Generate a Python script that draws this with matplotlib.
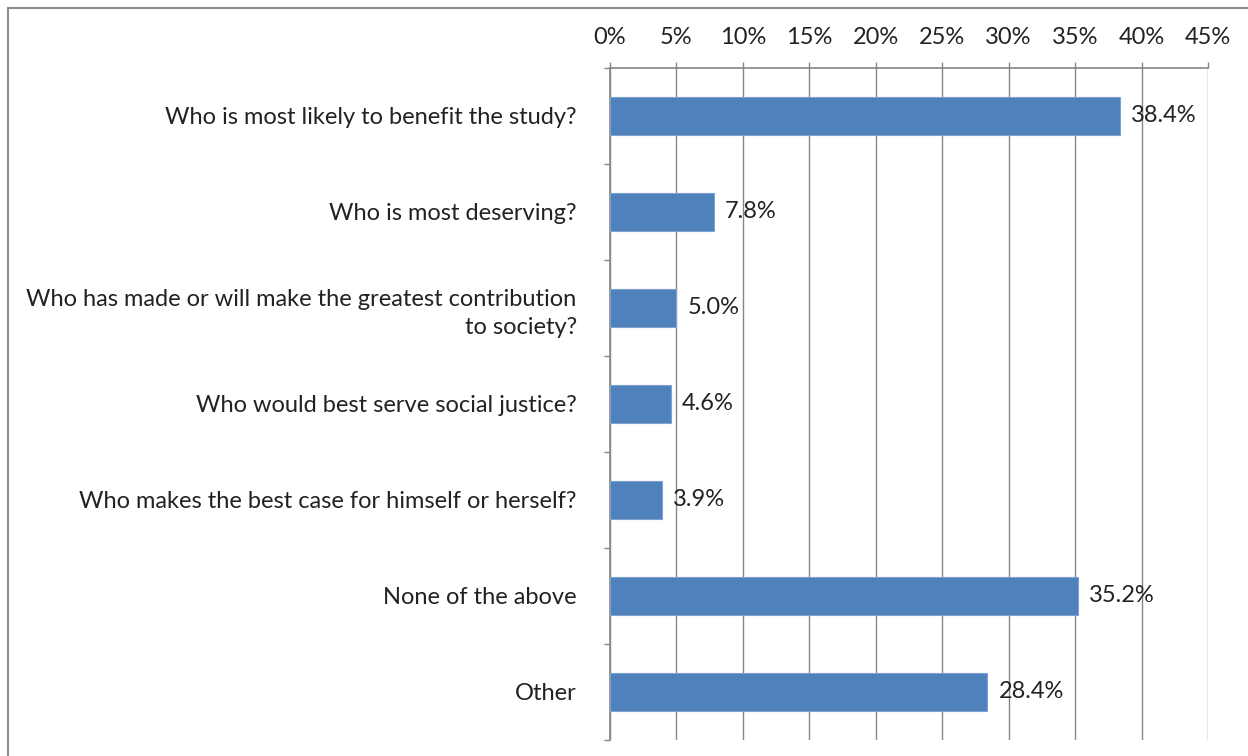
import matplotlib.pyplot as plt
import matplotlib.ticker as mtick
from matplotlib.patches import Rectangle
import numpy as np

# Respuestas y porcentajes
categorias = ['Who is most likely to benefit the study?',
              'Who is most deserving?',
              'Who has made or will make the greatest contribution\nto society?',
              'Who would best serve social justice?',
              'Who makes the best case for himself or herself?',
              'None of the above',
              'Other']
valores = [38.4, 7.8, 5.0, 4.6, 3.9, 35.2, 28.4]
xticks = np.arange(0, 50, 5)

plt.rcParams['font.family'] = ['Lato', 'DejaVu Sans']
cinza = '#868686'
fs = 17

fig = plt.figure(figsize=(12.48, 7.56), dpi=100)
ax = fig.add_axes([610/1248, 1-740/756, 598/1248, 672/756])

y = np.arange(len(categorias))
ax.barh(y, valores, height=0.4, color='#4F81BD', edgecolor='#7FA3D0',
        linewidth=0.8, zorder=3)
for yi, v in zip(y, valores):
    ax.annotate('%.1f%%' % v, xy=(v, yi), xytext=(8, 0), textcoords='offset points',
                va='center', ha='left', fontsize=fs, color='#222222', zorder=4)

ax.set_xlim(0, 45)
ax.set_ylim(6.5, -0.5)
ax.set_xticks(xticks)
ax.xaxis.set_major_formatter(mtick.FuncFormatter(lambda v, p: '%d%%' % v))
ax.xaxis.tick_top()
ax.tick_params(axis='x', direction='out', length=4.5, width=1, color=cinza,
               labelsize=fs, labelcolor='#222222', pad=10)
ax.grid(axis='x', color=cinza, linewidth=1, zorder=0)

ax.set_yticks(y)
ax.set_yticklabels(categorias, fontsize=fs, color='#222222', ha='right',
                   multialignment='right', linespacing=1.4)
ax.tick_params(axis='y', which='major', length=0, pad=24)
ax.set_yticks(np.arange(-0.5, 7, 1), minor=True)
ax.tick_params(axis='y', which='minor', length=4.5, width=1, color=cinza)

for lado in ['right', 'bottom']:
    ax.spines[lado].set_visible(False)
for lado in ['top', 'left']:
    ax.spines[lado].set_color(cinza)
    ax.spines[lado].set_linewidth(1.2)

# moldura do gráfico
fig.patches.append(Rectangle((8/1248, -0.1), 1.2, 1.1 - 8/756, transform=fig.transFigure,
                             fill=False, edgecolor='#8c8c8c', linewidth=1.5))

plt.savefig('out.png', dpi=100)
